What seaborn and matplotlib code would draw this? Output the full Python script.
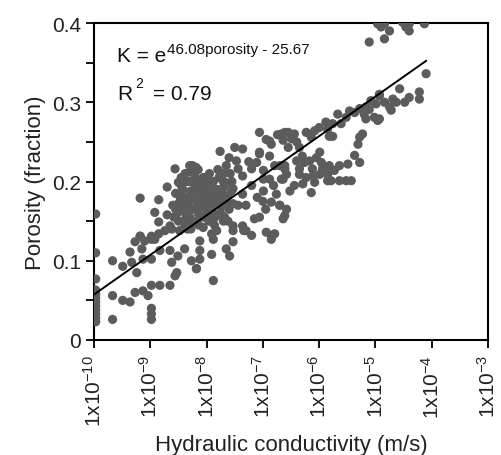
import numpy as np
import pandas as pd
import matplotlib
matplotlib.use("Agg")
import matplotlib.pyplot as plt
import seaborn as sns

# ---- data: log10 of hydraulic conductivity (m/s) and porosity (fraction) ----
col_logk = [-9.97] * 12
col_por = [0.159, 0.110, 0.077, 0.063, 0.058, 0.053, 0.048, 0.043, 0.038, 0.033, 0.028, 0.023]

low_logk = [-9.67, -9.67, -9.67, -9.49, -9.49, -9.36, -9.36, -9.33, -9.27, -9.24, -9.27, -9.18,
            -9.15, -9.13, -9.13, -9.04, -8.98, -8.98, -8.98, -8.98, -8.98, -8.98, -8.92, -8.83,
            -8.83, -8.74, -8.65, -8.65, -8.62, -8.53, -8.51, -8.48, -8.39, -8.27, -8.18, -8.56,
            -8.12, -8.12, -8.12, -8.18, -7.91, -7.88, -7.88, -7.82, -7.65, -7.59, -7.53, -7.53,
            -7.34, -7.20, -6.85, -6.85, -7.91, -8.85, -9.10]
low_por = [0.100, 0.056, 0.026, 0.093, 0.050, 0.111, 0.048, 0.098, 0.124, 0.085, 0.060, 0.131,
           0.115, 0.102, 0.062, 0.056, 0.127, 0.102, 0.069, 0.040, 0.033, 0.026, 0.127, 0.113,
           0.069, 0.138, 0.113, 0.069, 0.098, 0.085, 0.106, 0.138, 0.115, 0.100, 0.090, 0.081,
           0.125, 0.113, 0.102, 0.090, 0.108, 0.127, 0.075, 0.138, 0.115, 0.106, 0.124, 0.138,
           0.138, 0.132, 0.132, 0.127, 0.134, 0.134, 0.125]

core_logk = [-9.18, -8.85, -8.92, -8.85, -9.18, -8.98, -8.70, -8.70, -8.65, -8.56, -8.50, -8.48,
             -8.30, -8.25, -7.76, -7.50, -7.36, -8.19, -7.47, -7.44, -8.03, -7.71, -7.36, -7.53,
             -7.36, -7.44, -7.53, -7.30, -7.53, -7.36, -7.30, -8.30, -8.21, -8.06,
             -8.60, -8.55, -8.52, -8.50, -8.47, -8.45, -8.42, -8.40, -8.38, -8.36, -8.34, -8.32,
             -8.30, -8.28, -8.26, -8.24, -8.22, -8.20, -8.18, -8.16, -8.14, -8.12, -8.10, -8.08,
             -8.06, -8.04, -8.02, -8.00, -7.98, -7.96, -7.94, -7.92, -7.90, -7.88, -7.86, -7.84,
             -7.82, -7.80, -7.78, -7.76, -7.74, -7.72, -7.70, -7.68, -7.66, -7.64, -7.62, -7.60,
             -7.58, -7.56, -8.44, -8.36, -8.30, -8.22, -8.18, -8.10, -8.04, -7.98, -7.92, -7.86,
             -8.26, -8.14, -8.40, -8.48, -8.58, -8.62, -8.34, -8.00, -7.94, -8.12,
             -8.45, -8.38, -8.28, -8.20, -8.15, -8.08, -7.95, -7.88, -7.80, -7.70, -7.65, -7.55,
             -7.60, -8.55, -8.50, -8.35, -8.25, -8.05, -7.95, -7.75, -7.70, -7.62, -7.85, -8.42,
             -8.28]
core_por = [0.179, 0.177, 0.161, 0.149, 0.131, 0.131, 0.193, 0.158, 0.144, 0.216, 0.199, 0.182,
            0.212, 0.220, 0.238, 0.243, 0.241, 0.218, 0.226, 0.216, 0.205, 0.201, 0.207, 0.191,
            0.184, 0.170, 0.172, 0.170, 0.144, 0.144, 0.138, 0.220, 0.212, 0.205,
            0.170, 0.185, 0.160, 0.150, 0.175, 0.205, 0.190, 0.163, 0.145, 0.180, 0.200, 0.170,
            0.155, 0.188, 0.212, 0.165, 0.178, 0.148, 0.195, 0.172, 0.158, 0.185, 0.203, 0.168,
            0.142, 0.180, 0.192, 0.160, 0.175, 0.150, 0.188, 0.198, 0.165, 0.180, 0.145, 0.172,
            0.190, 0.158, 0.205, 0.178, 0.168, 0.185, 0.193, 0.155, 0.175, 0.198, 0.182, 0.165,
            0.210, 0.188, 0.165, 0.158, 0.178, 0.190, 0.165, 0.175, 0.168, 0.183, 0.175, 0.185,
            0.150, 0.145, 0.178, 0.185, 0.155, 0.140, 0.140, 0.200, 0.160, 0.155,
            0.195, 0.210, 0.200, 0.205, 0.215, 0.195, 0.210, 0.200, 0.215, 0.210, 0.220, 0.200,
            0.230, 0.165, 0.172, 0.168, 0.180, 0.155, 0.170, 0.160, 0.150, 0.150, 0.155, 0.150,
            0.140]

mid_logk = [-7.06, -6.88, -6.74, -6.61, -7.06, -6.88, -7.20, -7.11, -6.99, -6.79, -6.61, -6.99,
            -6.88, -6.64, -6.81, -6.99, -6.76, -6.85, -6.70, -6.58, -7.06, -7.15, -6.64, -6.94,
            -6.79, -6.94, -6.85, -7.06, -7.20, -7.10, -7.25, -6.95, -7.00]
mid_por = [0.262, 0.251, 0.259, 0.262, 0.237, 0.232, 0.216, 0.224, 0.214, 0.220, 0.220, 0.203,
           0.203, 0.203, 0.195, 0.188, 0.184, 0.174, 0.170, 0.165, 0.155, 0.153, 0.153, 0.136,
           0.134, 0.253, 0.247, 0.235, 0.195, 0.180, 0.225, 0.165, 0.175]

up_logk = [-4.93, -5.08, -5.17, -5.28, -5.37, -5.46, -5.52, -5.67, -5.61, -5.76, -5.88, -5.85,
           -6.00, -6.08, -6.14, -6.23, -6.44, -6.55, -6.67, -6.64, -6.49, -6.40, -6.35, -6.55,
           -5.82, -5.76, -5.28, -5.31, -4.93, -5.17, -5.37, -5.28, -5.49, -5.64,
           -4.57, -4.22, -4.40, -4.69, -4.93, -4.84, -4.99, -4.63, -4.48, -4.22, -4.75, -4.72,
           -5.11, -5.23, -5.02, -5.20, -4.96, -5.23, -4.10,
           -4.96, -4.84, -4.90, -4.75, -4.52, -4.40, -4.46, -4.40, -4.13, -5.11, -4.84]
up_por = [0.310, 0.302, 0.294, 0.292, 0.287, 0.289, 0.281, 0.285, 0.273, 0.273, 0.275, 0.266,
          0.268, 0.264, 0.256, 0.262, 0.260, 0.262, 0.260, 0.252, 0.254, 0.250, 0.243, 0.243,
          0.257, 0.257, 0.256, 0.247, 0.279, 0.279, 0.233, 0.224, 0.222, 0.220,
          0.317, 0.313, 0.306, 0.304, 0.308, 0.300, 0.298, 0.300, 0.300, 0.304, 0.294, 0.290,
          0.291, 0.291, 0.281, 0.285, 0.277, 0.260, 0.336,
          0.399, 0.399, 0.395, 0.390, 0.401, 0.399, 0.395, 0.390, 0.399, 0.376, 0.380]

lowband_logk = [-5.99, -6.05, -5.96, -6.17, -6.26, -6.35, -6.12, -5.94, -5.82, -5.73, -5.99, -5.85,
                -6.11, -6.23, -6.35, -6.61, -6.70, -6.67, -6.58, -6.44, -6.29, -6.08, -5.85, -5.79,
                -5.64, -5.52, -5.43, -6.52, -6.14, -6.70, -6.61, -6.40, -6.30]
lowband_por = [0.237, 0.230, 0.224, 0.226, 0.224, 0.216, 0.216, 0.216, 0.220, 0.214, 0.209, 0.209,
               0.207, 0.205, 0.209, 0.216, 0.220, 0.203, 0.209, 0.195, 0.197, 0.199, 0.201, 0.201,
               0.201, 0.201, 0.201, 0.188, 0.186, 0.170, 0.157, 0.226, 0.232]

# regression shown on the chart: K = exp(a*porosity + b)
fit_a = 46.08
fit_b = -25.67
fit_k_range = [1e-10, 8e-5]

x_ticks = [1e-10, 1e-9, 1e-8, 1e-7, 1e-6, 1e-5, 1e-4, 1e-3]
x_tick_labels = [r"1x10$^{-10}$", r"1x10$^{-9}$", r"1x10$^{-8}$", r"1x10$^{-7}$",
                 r"1x10$^{-6}$", r"1x10$^{-5}$", r"1x10$^{-4}$", r"1x10$^{-3}$"]
y_ticks = [0, 0.1, 0.2, 0.3, 0.4]
y_tick_labels = ["0", "0.1", "0.2", "0.3", "0.4"]

logk = col_logk + low_logk + core_logk + mid_logk + up_logk + lowband_logk
por = col_por + low_por + core_por + mid_por + up_por + lowband_por
df = pd.DataFrame({"K": 10.0 ** np.array(logk), "porosity": por})

sns.set_theme(style="ticks")
plt.rcParams["font.family"] = ["Liberation Sans", "DejaVu Sans"]
plt.rcParams["mathtext.fontset"] = "custom"
plt.rcParams["mathtext.rm"] = "Liberation Sans"
plt.rcParams["mathtext.it"] = "Liberation Sans"
plt.rcParams["mathtext.default"] = "regular"
plt.rcParams["axes.unicode_minus"] = False

fig = plt.figure(figsize=(5.01, 4.56), dpi=100)
ax = fig.add_axes([94 / 501, 1 - 341 / 456, (488 - 94) / 501, (341 - 24) / 456])

sns.scatterplot(data=df, x="K", y="porosity", ax=ax, color="#5c5c5c", s=44,
                linewidth=0, edgecolor="none", zorder=3, legend=False)

kk = np.array(fit_k_range)
ax.plot(kk, (np.log(kk) - fit_b) / fit_a, color="black", lw=1.4, zorder=4)

ax.set_xscale("log")
ax.set_xlim(1e-10, 1e-3)
ax.set_ylim(0, 0.4)
ax.set_xticks(x_ticks)
ax.set_xticklabels(x_tick_labels, rotation=90, fontsize=15)
ax.xaxis.set_minor_locator(matplotlib.ticker.NullLocator())
ax.set_yticks(y_ticks)
ax.set_yticklabels(y_tick_labels, fontsize=15)
ax.set_yticks([0.05, 0.15, 0.25, 0.35], minor=True)
ax.tick_params(axis="both", which="both", direction="out", length=6, width=1.3,
               color="black", labelcolor="#222222")
ax.tick_params(axis="x", pad=4)
for sp in ax.spines.values():
    sp.set_visible(True)
    sp.set_linewidth(1.5)
    sp.set_color("black")

ax.set_xlabel("Hydraulic conductivity (m/s)", fontsize=16, color="#222222", labelpad=6)
ax.set_ylabel("Porosity (fraction)", fontsize=16, color="#222222", labelpad=4)

# annotation: K = e^(46.08porosity - 25.67)
t1 = ax.text(0.058, 0.880, "K = e", transform=ax.transAxes, fontsize=15,
             color="#111111", va="baseline", ha="left")
ax.annotate("46.08porosity - 25.67", xy=(1, 1), xycoords=t1, xytext=(0.5, 3),
            textcoords="offset points", fontsize=11, color="#111111",
            va="top", ha="left")
# R^2 = 0.79
t2 = ax.text(0.058, 0.760, "R", transform=ax.transAxes, fontsize=15,
             color="#111111", va="baseline", ha="left")
ax.annotate("2", xy=(1, 1), xycoords=t2, xytext=(2, 6),
            textcoords="offset points", fontsize=10, color="#111111",
            va="top", ha="left")
ax.annotate("= 0.79", xy=(1, 0), xycoords=t2, xytext=(15, 0),
            textcoords="offset points", fontsize=15, color="#111111",
            va="bottom", ha="left")

fig.savefig("out.png", dpi=100)
